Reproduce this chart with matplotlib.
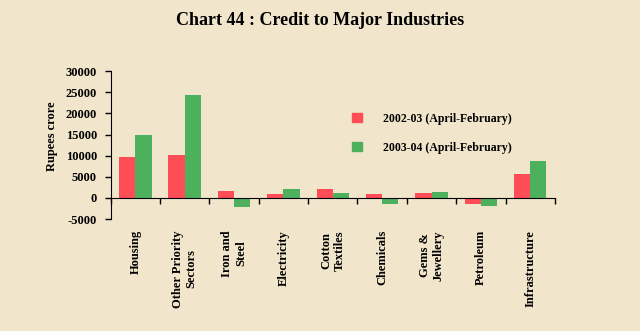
import numpy as np
import matplotlib.pyplot as plt
from matplotlib.transforms import blended_transform_factory
from matplotlib.patches import Patch

categories = ['Housing', 'Other Priority\nSectors', 'Iron and\nSteel', 'Electricity',
              'Cotton\nTextiles', 'Chemicals', 'Gems &\nJewellery', 'Petroleum', 'Infrastructure']
y2002 = [9800, 10100, 1600, 900, 2100, 900, 1200, -1400, 5600]
y2003 = [14800, 24400, -2100, 2100, 1200, -1400, 1500, -1900, 8700]
series_names = ['2002-03 (April-February)', '2003-04 (April-February)']
yticks = [-5000, 0, 5000, 10000, 15000, 20000, 25000, 30000]

bg = '#F1E6CB'
red = '#FF4D55'
green = '#4DB05D'

plt.rcParams['font.family'] = ['Liberation Serif', 'DejaVu Serif']
plt.rcParams['font.weight'] = 'bold'

fig = plt.figure(figsize=(6.4, 3.31), dpi=100, facecolor=bg)
ax = fig.add_axes([0.173, 0.338, 0.694, 0.447])
ax.set_facecolor(bg)

x = np.arange(len(categories))
w = 0.33
ax.bar(x - w/2, y2002, w, color=red, label=series_names[0])
ax.bar(x + w/2, y2003, w, color=green, label=series_names[1])

ax.set_xlim(-0.5, len(categories) - 0.5)
ax.set_ylim(-5000, 30000)
ax.set_yticks(yticks)
ax.set_yticklabels([str(v) for v in yticks], fontsize=9, fontweight='bold')
ax.tick_params(axis='y', direction='out', length=4, width=1, pad=6)

ax.spines['top'].set_visible(False)
ax.spines['right'].set_visible(False)
ax.spines['bottom'].set_position(('data', 0))
ax.set_xticks(np.arange(len(categories) + 1) - 0.5)
ax.set_xticklabels([])
ax.tick_params(axis='x', direction='out', length=4, width=1)

trans = blended_transform_factory(ax.transData, ax.transAxes)
for i, c in enumerate(categories):
    ax.text(i, -0.075, c, transform=trans, rotation=90, ha='center', va='top',
            fontsize=9, fontweight='bold', multialignment='center')

ax.set_ylabel('Rupees crore', fontsize=9, fontweight='bold')
ax.yaxis.set_label_coords(-0.118, 0.56)

handles = [Patch(color=red), Patch(color=green)]
ax.legend(handles, series_names, loc='upper left', bbox_to_anchor=(0.52, 0.79),
          frameon=False, fontsize=8.5, handlelength=0.8, handleheight=0.8,
          handletextpad=1.8, labelspacing=1.45)

fig.text(0.5, 0.937, 'Chart 44 : Credit to Major Industries', ha='center', va='center',
         fontsize=13, fontweight='bold')

fig.savefig('out.png', dpi=100, facecolor=bg)
